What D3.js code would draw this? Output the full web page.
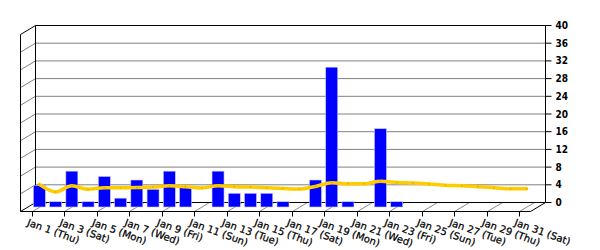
<!DOCTYPE html>
<html>
<head>
<meta charset="utf-8" />
<style>
body { margin: 0; background: #fff; }
.wall { fill: none; stroke: #000; stroke-width: 1px; }
.grid { fill: none; stroke: #808080; stroke-width: 1px; }
.floor { stroke: #8c8c8c; stroke-width: 1px; }
.xlabel { font: 10px "DejaVu Sans", sans-serif; fill: #000; stroke: #000; stroke-width: 0.25px; }
.ylabel { font: bold 10px "DejaVu Sans Condensed", "DejaVu Sans", sans-serif; fill: #000; }
</style>
</head>
<body>
<script src="https://cdn.jsdelivr.net/npm/d3@7"></script>
<script>
var days = ["Jan 1 (Thu)", "Jan 2 (Fri)", "Jan 3 (Sat)", "Jan 4 (Sun)", "Jan 5 (Mon)",
    "Jan 6 (Tue)", "Jan 7 (Wed)", "Jan 8 (Thu)", "Jan 9 (Fri)", "Jan 10 (Sat)",
    "Jan 11 (Sun)", "Jan 12 (Mon)", "Jan 13 (Tue)", "Jan 14 (Wed)", "Jan 15 (Thu)",
    "Jan 16 (Fri)", "Jan 17 (Sat)", "Jan 18 (Sun)", "Jan 19 (Mon)", "Jan 20 (Tue)",
    "Jan 21 (Wed)", "Jan 22 (Thu)", "Jan 23 (Fri)", "Jan 24 (Sat)", "Jan 25 (Sun)",
    "Jan 26 (Mon)", "Jan 27 (Tue)", "Jan 28 (Wed)", "Jan 29 (Thu)", "Jan 30 (Fri)",
    "Jan 31 (Sat)"];

// daily counts (blue bars)
var counts = [4.9, 1.2, 8.1, 1.2, 6.9, 2.0, 6.1, 4.0, 8.1, 4.5,
    0, 8.1, 3.1, 3.1, 3.1, 1.2, 0, 6.1, 31.6, 1.2,
    0, 17.7, 1.2, 0, 0, 0, 0, 0, 0, 0, 0];

// trend (yellow line)
var trend = [5.1, 3.4, 4.8, 4.0, 4.35, 4.35, 4.4, 4.5, 4.8, 4.6,
    4.3, 4.8, 4.6, 4.5, 4.35, 4.2, 4.05, 4.65, 5.5, 5.25,
    5.25, 5.8, 5.55, 5.4, 5.2, 4.9, 4.8, 4.6, 4.35, 4.1, 4.1];

var yTicks = [0, 4, 8, 12, 16, 20, 24, 28, 32, 36, 40];

var width = 600, height = 250;
var depthX = -15, depthY = 9;       // back wall -> front edge
var backLeft = 35.5, backRight = 545.5;

var svg = d3.select("body").append("svg")
    .attr("width", width)
    .attr("height", height);

var y = d3.scaleLinear().domain([0, 40]).range([202.5, 25.5]);

// x positions along the front edge of the floor
var x = d3.scalePoint()
    .domain(days)
    .range([backLeft + depthX, backRight + depthX])
    .padding(0.7);

// back wall grid lines + left wall diagonals
svg.selectAll(".grid")
    .data(yTicks.filter(function(t) { return t > 0 && t < 40; }))
  .enter().append("path")
    .attr("class", "grid")
    .attr("d", function(t) {
        var yy = y(t);
        return "M" + backRight + "," + yy + "H" + backLeft +
            "L" + (backLeft + depthX) + "," + (yy + depthY);
    });

// floor diagonals at labelled days
var labelled = days.filter(function(d, i) { return i % 2 === 0; });

svg.selectAll(".floor")
    .data(labelled)
  .enter().append("line")
    .attr("class", "floor")
    .attr("x1", function(d) { return Math.round(x(d)) + 0.5; })
    .attr("y1", y(0) + depthY)
    .attr("x2", function(d) { return Math.round(x(d)) + 0.5 - depthX; })
    .attr("y2", y(0));

// frame
var y0 = y(0), yTop = y(40);
svg.append("path")
    .attr("class", "wall")
    .attr("d",
        "M" + backLeft + "," + yTop + "H" + backRight + "V" + y0 + "H" + backLeft + "Z" +
        "M" + backLeft + "," + yTop + "L" + (backLeft + depthX) + "," + (yTop + depthY) +
        "V" + (y0 + depthY) + "L" + backLeft + "," + y0 +
        "M" + (backLeft + depthX) + "," + (y0 + depthY) + "H" + (backRight + depthX) +
        "L" + backRight + "," + y0);

// bars at mid depth
var midX = -depthX / 2, midY = depthY / 2;
var barW = 12;

svg.selectAll(".bar")
    .data(counts)
  .enter().append("rect")
    .attr("class", "bar")
    .attr("x", function(d, i) { return x(days[i]) + midX - barW / 2; })
    .attr("y", function(d) { return y(d) + midY; })
    .attr("width", barW)
    .attr("height", function(d) { return y(0) - y(d); })
    .style("fill", "#0000ff")
    .style("stroke", "#c8c8ff")
    .style("stroke-width", 0.6)
    .style("display", function(d) { return d > 0 ? null : "none"; });

// trend line
var line = d3.line()
    .x(function(d, i) { return x(days[i]) + midX; })
    .y(function(d) { return y(d) + midY; })
    .curve(d3.curveMonotoneX);

svg.append("path")
    .datum(trend)
    .attr("d", line)
    .style("fill", "none")
    .style("stroke", "#ffcc00")
    .style("stroke-width", 3.5)
    .style("stroke-linecap", "round");

svg.selectAll(".dot")
    .data(trend)
  .enter().append("circle")
    .attr("cx", function(d, i) { return x(days[i]) + midX; })
    .attr("cy", function(d) { return y(d) + midY; })
    .attr("r", 0.8)
    .style("fill", "#b08a00")
    .style("opacity", 0.5);

// right axis
var yAxis = svg.append("g");
yAxis.selectAll("line")
    .data(yTicks)
  .enter().append("line")
    .attr("x1", backRight)
    .attr("x2", backRight + 6)
    .attr("y1", function(t) { return y(t); })
    .attr("y2", function(t) { return y(t); })
    .style("stroke", "#000");

yAxis.selectAll("text")
    .data(yTicks)
  .enter().append("text")
    .attr("class", "ylabel")
    .attr("x", backRight + 10)
    .attr("y", function(t) { return y(t); })
    .attr("dy", "0.35em")
    .text(function(t) { return t; });

// x ticks and labels
svg.selectAll(".xtick")
    .data(labelled)
  .enter().append("line")
    .attr("class", "xtick")
    .attr("x1", function(d) { return Math.round(x(d)) + 0.5; })
    .attr("x2", function(d) { return Math.round(x(d)) + 0.5; })
    .attr("y1", y0 + depthY)
    .attr("y2", y0 + depthY + 5)
    .style("stroke", "#000");

svg.selectAll(".xlabel")
    .data(labelled)
  .enter().append("text")
    .attr("class", "xlabel")
    .attr("transform", function(d) {
        return "translate(" + (x(d) - 3) + "," + (y0 + depthY + 7) + ") rotate(20)";
    })
    .attr("dy", "0.71em")
    .text(function(d) { return d; });
</script>
</body>
</html>
